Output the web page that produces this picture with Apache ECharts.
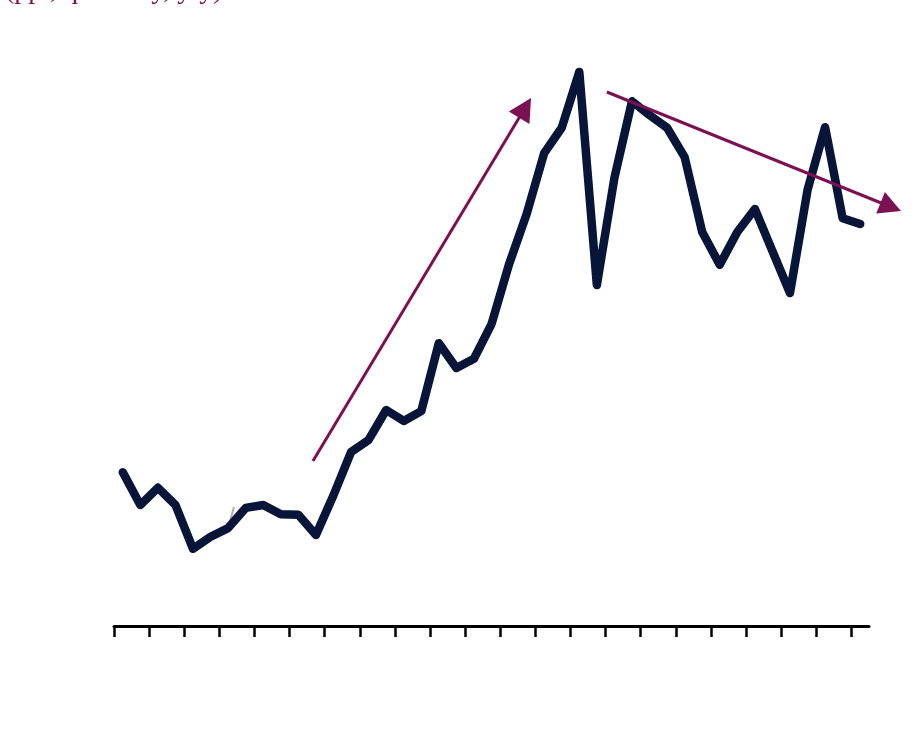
<!DOCTYPE html>
<html><head><meta charset="utf-8">
<script src="https://cdn.jsdelivr.net/npm/echarts@6/dist/echarts.min.js"></script>
<style>html,body{margin:0;padding:0;background:#fff}#c{width:913px;height:741px}</style>
</head><body><div id="c"></div>
<script>
// ---- data ----
const titleText = '(ppt, quarterly, y/y)';
const categories = ['1','2','3','4','5','6','7','8','9','10','11','12','13','14','15','16','17','18','19','20','21','22','23','24','25','26','27','28','29','30','31','32','33','34','35','36','37','38','39','40','41','42','43'];
const values = [26.7,21.0,24.0,21.0,13.4,15.5,17.0,20.5,21.0,19.4,19.3,15.8,22.7,30.2,32.3,37.5,35.6,37.3,49.1,44.8,46.4,52.4,62.8,71.5,82.1,86.5,96.2,59.2,77.8,91.1,88.7,86.5,81.4,68.4,62.7,68.4,72.4,65.1,57.8,75.7,86.6,70.8,69.8];
// tick boundaries between periods (ticks every second boundary), no tick labels shown
const tickBoundaries = ['b0','b1','b2','b3','b4','b5','b6','b7','b8','b9','b10','b11','b12','b13','b14','b15','b16','b17','b18','b19','b20','b21','b22','b23','b24','b25','b26','b27','b28','b29','b30','b31','b32','b33','b34','b35','b36','b37','b38','b39','b40','b41','b42','b43'];
const tickLabels = [];
// annotation arrows in data units [period index, value]
const arrowUp = [[10.83, 28.65], [23.25, 91.67]];
const arrowDown = [[27.57, 92.71], [44.32, 72.05]];
const greyMark = [[6.33, 20.66], [6.05, 17.53]];

const NAVY = '#061538';
const PURPLE = '#7b1052';

const chart = echarts.init(document.getElementById('c'), null, {renderer: 'canvas'});
chart.setOption({
  animation: false,
  backgroundColor: '#ffffff',
  title: {
    text: titleText, left: 0, top: -28,
    textStyle: {fontFamily: 'Liberation Serif', fontSize: 28, fontWeight: 'normal', color: PURPLE}
  },
  grid: {left: 114, right: 44, top: 50, bottom: 115},
  xAxis: [
    {type: 'category', data: categories, boundaryGap: true, position: 'bottom',
     axisLine: {show: true, lineStyle: {color: '#000', width: 3}},
     axisTick: {show: false}, axisLabel: {show: false}, splitLine: {show: false}},
    {type: 'category', data: tickBoundaries, boundaryGap: false, position: 'bottom',
     axisLine: {show: false},
     axisTick: {show: true, length: 11, interval: function (i) { return i % 2 === 0; }, lineStyle: {color: '#000', width: 2.5}},
     axisLabel: {show: false, formatter: function (v, i) { return tickLabels[i] || ''; }}, splitLine: {show: false}},
    {type: 'value', min: -0.5, max: 42.5, show: false, splitLine: {show: false}}
  ],
  yAxis: {type: 'value', min: 0, max: 100, show: false},
  series: [{
    type: 'line', xAxisIndex: 0, yAxisIndex: 0, data: values,
    symbol: 'none', clip: false,
    lineStyle: {color: NAVY, width: 8.5, cap: 'round', join: 'round'}
  }]
});

function px(p) { return chart.convertToPixel({xAxisIndex: 2, yAxisIndex: 0}, p); }
function arrowGraphics(pts, color, w, headLen, headHalf) {
  const a = px(pts[0]), b = px(pts[1]);
  const dx = b[0] - a[0], dy = b[1] - a[1];
  const L = Math.sqrt(dx * dx + dy * dy);
  const ux = dx / L, uy = dy / L;
  const bx = b[0] - ux * headLen, by = b[1] - uy * headLen;
  return [
    {type: 'line', shape: {x1: a[0], y1: a[1], x2: bx + ux * 2, y2: by + uy * 2},
     style: {stroke: color, lineWidth: w}, z: 10},
    {type: 'polygon', shape: {points: [[b[0], b[1]], [bx - uy * headHalf, by + ux * headHalf], [bx + uy * headHalf, by - ux * headHalf]]},
     style: {fill: color}, z: 10}
  ];
}
const g1 = px(greyMark[0]), g2 = px(greyMark[1]);
chart.setOption({
  graphic: [].concat(
    arrowGraphics(arrowUp, PURPLE, 3, 23, 12),
    arrowGraphics(arrowDown, PURPLE, 3, 22, 11.5),
    [{type: 'line', shape: {x1: g1[0], y1: g1[1], x2: g2[0], y2: g2[1]}, style: {stroke: '#b0b0b0', lineWidth: 2}, z: 1}]
  )
});
</script>
</body></html>
